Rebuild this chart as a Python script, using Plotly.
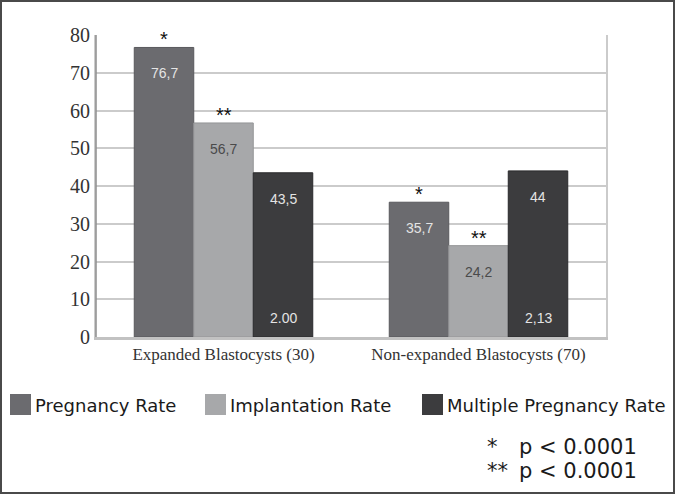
import plotly.graph_objects as go

# ---- data ----
categories = ["Expanded Blastocysts (30)", "Non-expanded Blastocysts (70)"]
series_names = ["Pregnancy Rate", "Implantation Rate", "Multiple Pregnancy Rate"]
pregnancy_rate = [76.7, 35.7]
implantation_rate = [56.7, 24.2]
multiple_pregnancy_rate = [43.5, 44.0]
foot_labels = ["2.00", "2,13"]          # printed at the foot of the multiple pregnancy bars
significance = ["*", "**", ""]          # marker above each series' bars
y_ticks = [0, 10, 20, 30, 40, 50, 60, 70, 80]
p_notes = [("*", "p < 0.0001"), ("**", "p < 0.0001")]

series_values = [pregnancy_rate, implantation_rate, multiple_pregnancy_rate]

# ---- layout / style ----
W, H = 675, 494
M_L, M_R, M_T, M_B = 96, 69, 35, 157
PW, PH = W - M_L - M_R, H - M_T - M_B
BARGAP = 0.3

bar_colors = ["#6b6b6f", "#a7a8aa", "#3c3c3e"]
edge_colors = ["#58585c", "#949597", "#2a2a2c"]
label_colors = ["#e4e4e4", "#4a4a4a", "#e4e4e4"]
legend_x = [10, 205, 422]   # left edge of each legend swatch, px


def px_x(px):
    return (px - M_L) / PW


def px_y(py):
    return (H - M_B - py) / PH


def fmt(v):
    return f"{v:g}".replace(".", ",")


fig = go.Figure()
for name, vals, col, edge in zip(series_names, series_values, bar_colors, edge_colors):
    fig.add_trace(go.Bar(
        x=categories, y=vals, name=name,
        marker=dict(color=col, line=dict(color=edge, width=1)),
        showlegend=False,
        hovertemplate="%{x}<br>" + name + ": %{y}<extra></extra>",
    ))

bar_w = (1 - BARGAP) / len(series_names)
annotations = []
for j, vals in enumerate(series_values):
    offset = (j - (len(series_names) - 1) / 2) * bar_w
    for i, v in enumerate(vals):
        annotations.append(dict(
            x=i + offset, y=v, xref="x", yref="y", text=fmt(v),
            showarrow=False, yanchor="top", yshift=-16,
            font=dict(family="Liberation Sans", size=14, color=label_colors[j]),
        ))
        if significance[j]:
            annotations.append(dict(
                x=i + offset, y=v, xref="x", yref="y", text=significance[j],
                showarrow=False, yanchor="bottom", yshift=-5,
                font=dict(family="Liberation Sans", size=20, color="#111111"),
            ))

# labels at the bottom of the multiple pregnancy bars
last = len(series_names) - 1
for i, t in enumerate(foot_labels):
    annotations.append(dict(
        x=i + (last - last / 2) * bar_w, y=0, xref="x", yref="y", text=t,
        showarrow=False, yanchor="bottom", yshift=9,
        font=dict(family="Liberation Sans", size=14, color=label_colors[last]),
    ))

# hand-drawn legend (large square swatches)
shapes = []
for j, name in enumerate(series_names):
    shapes.append(dict(
        type="rect", xref="paper", yref="paper",
        x0=px_x(legend_x[j]), x1=px_x(legend_x[j] + 21),
        y0=px_y(415), y1=px_y(394),
        fillcolor=bar_colors[j], line=dict(width=0),
    ))
    annotations.append(dict(
        x=px_x(legend_x[j] + 23), y=px_y(405), xref="paper", yref="paper",
        text=name, showarrow=False, xanchor="left", yanchor="middle",
        font=dict(family="DejaVu Sans", size=18, color="#1a1a1a"),
    ))

# significance notes
for k, (stars, note) in enumerate(p_notes):
    yy = px_y(447 + 24 * k)
    annotations.append(dict(
        x=px_x(485), y=yy, xref="paper", yref="paper", text=stars,
        showarrow=False, xanchor="left", yanchor="middle",
        font=dict(family="DejaVu Sans", size=21, color="#1a1a1a"),
    ))
    annotations.append(dict(
        x=px_x(517), y=yy, xref="paper", yref="paper", text=note,
        showarrow=False, xanchor="left", yanchor="middle",
        font=dict(family="DejaVu Sans", size=21, color="#1a1a1a"),
    ))

# darker left axis line
shapes.append(dict(
    type="line", xref="paper", yref="paper", x0=0, x1=0, y0=0, y1=1,
    line=dict(color="#8e8e8e", width=1.5),
))
# frame round the whole picture
shapes.append(dict(
    type="rect", xref="paper", yref="paper",
    x0=px_x(1), x1=px_x(W - 1), y0=px_y(H - 1), y1=px_y(1),
    line=dict(color="#4a4a4a", width=2),
))

fig.update_layout(
    width=W, height=H,
    margin=dict(l=M_L, r=M_R, t=M_T, b=M_B),
    paper_bgcolor="white", plot_bgcolor="white",
    barmode="group", bargap=BARGAP, bargroupgap=0,
    showlegend=False,
    annotations=annotations,
    shapes=shapes,
)
fig.update_xaxes(
    type="category", showgrid=False, ticks="",
    showline=True, linecolor="#c2c2c2", linewidth=3,
    tickfont=dict(family="Liberation Serif", size=17, color="#333333"),
)
fig.update_yaxes(
    range=[0, 80], tickvals=y_ticks, ticks="",
    showgrid=True, gridcolor="#cbcbcb", gridwidth=2, zeroline=False,
    showline=True, linecolor="#cbcbcb", linewidth=2, mirror=True,
    tickfont=dict(family="Liberation Serif", size=20, color="#333333"),
)

# drop the page's default 8px body margin so the figure sits at the window origin
fig.write_html("out.html", config={"displayModeBar": False},
               post_script="document.body.style.margin='0';")
